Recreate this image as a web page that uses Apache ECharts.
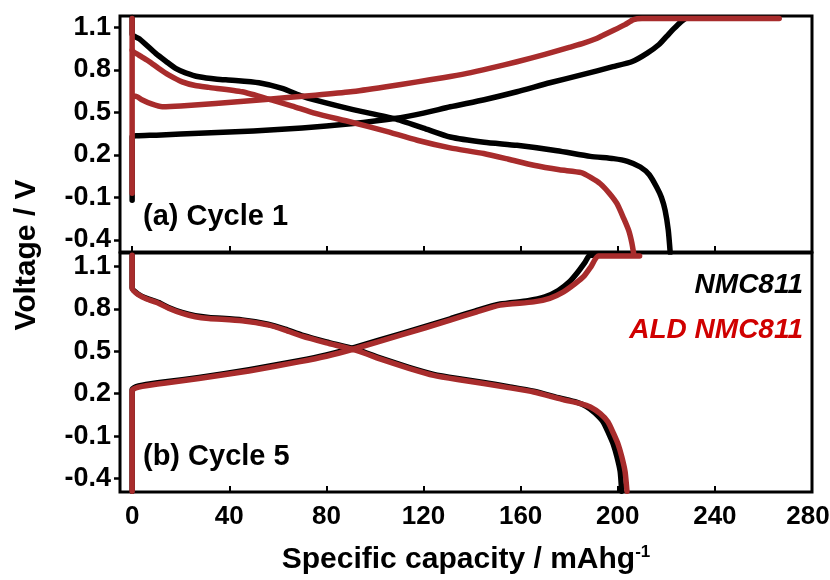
<!DOCTYPE html>
<html>
<head>
<meta charset="utf-8">
<script src="https://cdn.jsdelivr.net/npm/echarts@6/dist/echarts.min.js"></script>
<style>
  html, body { margin: 0; padding: 0; background: #fff; }
  #chart { width: 830px; height: 580px; }
</style>
</head>
<body>
<div id="chart"></div>
<script>
// ---- data (capacity mAh/g, voltage V) ----
const seriesNames = ['NMC811', 'ALD NMC811'];
const xTicks = [0, 40, 80, 120, 160, 200, 240, 280];
const yTicks = [-0.4, -0.1, 0.2, 0.5, 0.8, 1.1];
const panelLabels = ['(a) Cycle 1', '(b) Cycle 5'];

// cycle 1
const nmcC1Charge = [[0,-0.12],[0,0.33],[2,0.335],[10,0.34],[30,0.355],[50,0.37],[70,0.39],[90,0.42],[108,0.457],[120,0.495],[131,0.54],[145,0.59],[158.5,0.646],[172,0.71],[185,0.765],[198,0.823],[206,0.86],[212,0.917],[217,0.98],[220,1.035],[223,1.09],[226,1.14],[228,1.165]];
const nmcC1Discharge = [[0,1.17],[0,1.05],[3,1.02],[9.7,0.917],[14,0.86],[17.9,0.811],[22,0.78],[27.5,0.752],[35,0.735],[41.2,0.728],[52.2,0.71],[61.8,0.67],[70,0.615],[75.5,0.587],[91,0.52],[108,0.457],[120,0.39],[131,0.327],[145,0.29],[158.5,0.268],[175,0.23],[188.7,0.19],[198.3,0.174],[204,0.155],[209.3,0.115],[213,0.06],[216.1,-0.03],[218,-0.1],[219.5,-0.19],[220.8,-0.33],[221.6,-0.49]];
const aldC1Charge = [[0,0.94],[0,-0.07],[0,0.615],[1.5,0.615],[4,0.59],[8,0.56],[12.4,0.54],[20,0.545],[34.4,0.563],[54.9,0.592],[75.5,0.622],[90,0.646],[104,0.68],[117.4,0.716],[128,0.745],[137.9,0.776],[148,0.815],[158.5,0.858],[170,0.91],[180,0.96],[186,0.99],[191,1.02],[194,1.045],[198.3,1.08],[203,1.12],[206.5,1.155],[210,1.163],[266.5,1.163]];
const aldC1Discharge = [[0,1.163],[0,0.94],[2.8,0.905],[7,0.86],[11,0.81],[15,0.765],[20.6,0.716],[26,0.69],[31.6,0.677],[45.3,0.646],[57.7,0.587],[66,0.545],[75.5,0.493],[90,0.433],[104,0.37],[117.4,0.304],[131,0.25],[144.8,0.21],[155,0.17],[165.4,0.127],[176,0.095],[185,0.075],[189,0.04],[192.8,-0.003],[196.5,-0.07],[199.7,-0.144],[202.5,-0.25],[204.5,-0.333],[205.8,-0.42],[206.5,-0.49]];

// cycle 5
const nmcC5Charge = [[0,-0.49],[0,0.23],[1.5,0.248],[4.2,0.26],[13.8,0.284],[27.5,0.315],[48.1,0.37],[68.6,0.434],[80,0.475],[92,0.53],[110.5,0.624],[131,0.73],[142,0.79],[151.6,0.835],[163,0.858],[170,0.885],[175.5,0.93],[180,0.99],[183.5,1.06],[186.5,1.13],[188.5,1.18],[195,1.18]];
const nmcC5Discharge = [[0,1.18],[0,0.95],[2.5,0.905],[6,0.875],[11,0.845],[15,0.81],[20.5,0.775],[26,0.752],[31.6,0.74],[45.3,0.722],[56,0.692],[63,0.657],[70,0.615],[80,0.567],[92,0.515],[103.6,0.444],[114,0.387],[124.2,0.337],[134,0.307],[144.8,0.279],[155,0.25],[165.4,0.218],[176,0.17],[183,0.14],[187,0.11],[190.5,0.065],[194,0.0],[196.3,-0.083],[198.2,-0.16],[199.7,-0.249],[201,-0.35],[201.6,-0.49]];
const aldC5Charge = [[0,-0.49],[0,0.224],[1.5,0.24],[4.2,0.252],[13.8,0.276],[27.5,0.307],[48.1,0.361],[68.6,0.425],[80,0.465],[92,0.52],[110.5,0.614],[131,0.72],[142,0.78],[151.6,0.827],[165.4,0.85],[172,0.875],[177.7,0.921],[182.5,0.98],[186,1.03],[189,1.1],[192,1.175],[209,1.175]];
const aldC5Discharge = [[0,1.18],[0,0.945],[2.8,0.898],[6,0.87],[11,0.839],[15,0.805],[20.7,0.768],[26,0.745],[31.6,0.733],[45.3,0.716],[56.3,0.685],[63,0.65],[70,0.607],[80,0.56],[92,0.508],[103.6,0.437],[114,0.38],[124.2,0.33],[134,0.3],[144.8,0.272],[155,0.243],[165.4,0.212],[177,0.16],[184.6,0.13],[188.7,0.106],[192.8,0.059],[196,0.0],[198.3,-0.083],[200.2,-0.16],[201.7,-0.249],[203,-0.35],[203.8,-0.49]];

const BLACK = '#000000';
const RED = '#a82c2c';
const LEGEND_RED = '#d00000';
const FONT = '"Liberation Sans", Arial, sans-serif';

const chart = echarts.init(document.getElementById('chart'));

function lineSeries(name, data, grid, color) {
  return {
    name: name,
    type: 'line',
    xAxisIndex: grid,
    yAxisIndex: grid,
    data: data,
    symbol: 'none',
    smooth: 0.2,
    clip: true,
    lineStyle: { color: color, width: 5.5, cap: 'round', join: 'round' },
    silent: true
  };
}

function xAxisFor(grid, showLabels) {
  return {
    type: 'value',
    gridIndex: grid,
    min: -5,
    max: 280,
    axisLine: { show: false, onZero: false },
    splitLine: { show: false },
    axisTick: {
      inside: true, length: 6, customValues: xTicks,
      lineStyle: { color: BLACK, width: 2 }
    },
    axisLabel: {
      show: showLabels, customValues: xTicks, margin: 12,
      // last label sits at the canvas edge; nudge it in a little
      formatter: v => v === 280 ? '{edge|280}' : String(v),
      rich: { edge: { fontFamily: FONT, fontWeight: 'bold', fontSize: 26, padding: [0, 8, 0, 0] } },
      color: BLACK, fontFamily: FONT, fontWeight: 'bold', fontSize: 26
    },
    name: showLabels ? 'Specific capacity / mAhg{sup|-1}' : '',
    nameLocation: 'middle',
    nameGap: 52,
    nameTextStyle: {
      color: BLACK, fontFamily: FONT, fontWeight: 'bold', fontSize: 30,
      rich: { sup: { fontFamily: FONT, fontWeight: 'bold', fontSize: 17, verticalAlign: 'top', padding: [0, 0, 14, 0] } }
    }
  };
}

function yAxisFor(grid, min, max) {
  return {
    type: 'value',
    gridIndex: grid,
    min: min,
    max: max,
    axisLine: { show: false, onZero: false },
    splitLine: { show: false },
    axisTick: {
      inside: false, length: 6, customValues: yTicks,
      lineStyle: { color: BLACK, width: 2.5 }
    },
    axisLabel: {
      customValues: yTicks, margin: 9,
      formatter: v => v.toFixed(1),
      color: BLACK, fontFamily: FONT, fontWeight: 'bold', fontSize: 27
    }
  };
}

const frame = {
  show: true, borderColor: BLACK, borderWidth: 3, backgroundColor: 'transparent',
  containLabel: false, outerBoundsMode: 'none'
};

const option = {
  animation: false,
  backgroundColor: '#fff',
  grid: [
    Object.assign({ left: 120, top: 16, width: 692, height: 236 }, frame),
    Object.assign({ left: 120, top: 253, width: 692, height: 239 }, frame)
  ],
  xAxis: [xAxisFor(0, false), xAxisFor(1, true)],
  yAxis: [yAxisFor(0, -0.485, 1.181), yAxisFor(1, -0.496, 1.196)],
  series: [
    lineSeries(seriesNames[0], nmcC1Charge, 0, BLACK),
    lineSeries(seriesNames[0], nmcC1Discharge, 0, BLACK),
    lineSeries(seriesNames[1], aldC1Charge, 0, RED),
    lineSeries(seriesNames[1], aldC1Discharge, 0, RED),
    lineSeries(seriesNames[0], nmcC5Charge, 1, BLACK),
    lineSeries(seriesNames[0], nmcC5Discharge, 1, BLACK),
    lineSeries(seriesNames[1], aldC5Charge, 1, RED),
    lineSeries(seriesNames[1], aldC5Discharge, 1, RED)
  ],
  graphic: [
    {
      type: 'text', x: 27, y: 255, rotation: Math.PI / 2,
      style: { text: 'Voltage / V', fill: BLACK, font: 'bold 30px ' + FONT, align: 'center', verticalAlign: 'middle' }
    },
    {
      type: 'text', x: 143, y: 217,
      style: { text: panelLabels[0], fill: BLACK, font: 'bold 29px ' + FONT, align: 'left', verticalAlign: 'middle' }
    },
    {
      type: 'text', x: 143, y: 457,
      style: { text: panelLabels[1], fill: BLACK, font: 'bold 29px ' + FONT, align: 'left', verticalAlign: 'middle' }
    },
    {
      type: 'text', x: 803, y: 285,
      style: { text: seriesNames[0], fill: BLACK, font: 'italic bold 28px ' + FONT, align: 'right', verticalAlign: 'middle' }
    },
    {
      type: 'text', x: 803, y: 330,
      style: { text: seriesNames[1], fill: LEGEND_RED, font: 'italic bold 28px ' + FONT, align: 'right', verticalAlign: 'middle' }
    }
  ]
};

chart.setOption(option);
window.addEventListener('resize', () => chart.resize());
</script>
</body>
</html>
